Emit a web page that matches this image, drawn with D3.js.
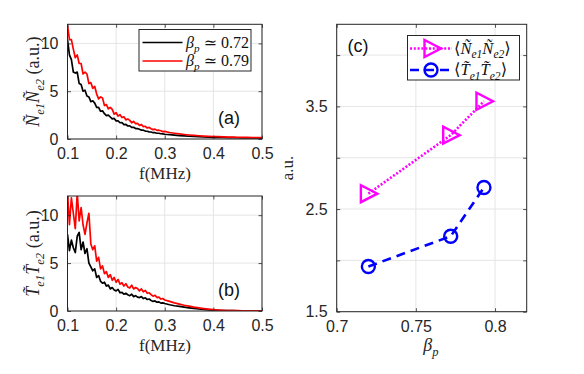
<!DOCTYPE html>
<html><head><meta charset="utf-8">
<script src="https://cdn.jsdelivr.net/npm/d3@7"></script>
<style>body{margin:0;background:#fff}svg{display:block}</style>
</head><body><svg id="c" width="584" height="374"></svg>
<script>
// ---------- data ----------
const freqs = [0.1,0.104,0.108,0.112,0.116,0.12,0.124,0.128,0.132,0.136,0.14,0.144,0.148,0.152,0.156,0.16,0.164,0.168,0.172,0.176,0.18,0.184,0.188,0.192,0.196,0.2,0.204,0.208,0.212,0.216,0.22,0.224,0.228,0.232,0.236,0.24,0.244,0.248,0.252,0.256,0.26,0.264,0.268,0.272,0.276,0.28,0.284,0.288,0.292,0.296,0.3,
  0.31,0.32,0.33,0.34,0.35,0.36,0.37,0.38,0.39,0.4,0.41,0.42,0.43,0.44,0.45,0.46,0.47,0.48,0.49,0.5];
const nnLow = [10.4,8.8,8.3,7.0,6.9,7.0,5.8,5.7,5.0,5.1,4.5,4.4,3.9,4.0,3.75,3.3,3.3,2.9,2.95,2.65,2.45,2.5,2.3,2.1,2.15,1.9,1.9,1.7,1.71,1.51,1.53,1.36,1.37,1.22,1.22,1.09,1.08,1.02,0.92,0.92,0.83,0.81,0.74,0.73,0.66,0.66,0.6,0.6,0.55,0.54,0.5,
  0.45,0.41,0.36,0.33,0.29,0.27,0.24,0.22,0.2,0.18,0.17,0.16,0.15,0.14,0.13,0.12,0.12,0.11,0.11,0.1];
const nnHigh = [11.9,10.4,10.4,9.4,8.5,8.8,7.9,7.9,6.8,7.0,6.8,5.8,5.9,5.3,5.5,4.7,4.2,4.4,4.3,3.5,3.6,3.15,3.3,3.1,2.6,2.75,2.4,2.55,2.25,2.32,2.0,2.1,1.95,1.7,1.84,1.6,1.63,1.42,1.5,1.29,1.33,1.15,1.21,1.08,0.98,1.03,0.9,0.92,0.86,0.77,0.79,
  0.68,0.6,0.53,0.47,0.42,0.38,0.34,0.31,0.28,0.26,0.24,0.22,0.2,0.19,0.18,0.17,0.16,0.15,0.14,0.14];
const ttLow = [8.0,6.3,7.4,6.6,6.1,7.8,8.2,6.4,7.2,6.0,6.5,5.0,4.6,4.2,4.4,3.5,3.7,3.1,2.9,3.0,2.6,
  2.7,2.3,2.45,2.2,2.1,2.25,1.9,1.95,1.75,1.85,1.7,1.6,1.75,1.5,1.6,1.45,1.4,1.5,1.3,1.38,1.2,1.25,1.1,1.0,1.05,0.92,0.95,0.82,0.85,0.78,
  0.65,0.55,0.48,0.4,0.33,0.27,0.21,0.16,0.12,0.09,0.07,0.05,0.04,0.03,0.02,0.02,0.01,0.01,0.01,0.01];
const ttHigh = [12.4,9.0,11.8,10.2,8.6,12.3,9.4,10.8,9.0,8.0,9.2,10.2,7.0,6.4,6.8,5.2,5.6,4.4,4.7,3.9,4.1,
  3.5,3.8,3.2,3.5,3.0,3.3,2.8,2.95,2.6,2.85,2.5,2.4,2.7,2.3,2.45,2.35,2.1,2.3,2.0,2.15,1.85,1.9,1.7,1.55,1.65,1.4,1.45,1.25,1.3,1.15,
  1.0,0.85,0.72,0.6,0.5,0.4,0.32,0.25,0.19,0.14,0.1,0.07,0.05,0.04,0.03,0.02,0.02,0.01,0.01,0.01];
const betaLegend = ["0.72","0.79"];

const betaP = [0.72, 0.772, 0.793];
const nCorr = [2.65, 3.22, 3.55];
const tCorr = [1.94, 2.235, 2.71];

const fTicks = [0.1,0.2,0.3,0.4,0.5];
const specYTicks = [0,5,10];
const betaTicks = [0.7,0.75,0.8];
const betaTickLabels = ["0.7","0.75","0.8"];
const auTicks = [1.5,2,2.5,3,3.5,4];
const auTickLabels = ["1.5","","2.5","","3.5",""];

// ---------- drawing ----------
const svg = d3.select("#c");
const AX = "#262626", GRID = "#e5e5e5";
const SANS = "'Liberation Sans', Arial, sans-serif";
const SERIF = "'Liberation Serif', 'DejaVu Serif', serif";

function rich(text, segs, base){
  let cur = 0;
  segs.forEach(s => {
    const sz = s.sub ? base*0.7 : base;
    const target = s.sub ? base*0.28 : 0;
    const ts = text.append("tspan").text(s.t)
      .attr("font-size", sz)
      .attr("font-style", s.it ? "italic" : "normal");
    if (target - cur !== 0) ts.attr("dy", target - cur);
    cur = target;
  });
}

function frame(g, x, y, xt, yt, id){
  const [x0,x1] = x.range(), [y1,y0] = y.range();
  const w = x1-x0, h = y1-y0;
  g.append("g").selectAll("line").data(xt).join("line")
    .attr("x1", d=>x(d)).attr("x2", d=>x(d)).attr("y1", y0).attr("y2", y1)
    .attr("stroke", GRID).attr("stroke-width", 1);
  g.append("g").selectAll("line").data(yt).join("line")
    .attr("y1", d=>y(d)).attr("y2", d=>y(d)).attr("x1", x0).attr("x2", x1)
    .attr("stroke", GRID).attr("stroke-width", 1);
  g.append("clipPath").attr("id", id).append("rect")
    .attr("x", x0).attr("y", y0).attr("width", w).attr("height", h);
  return {x0,x1,y0,y1,w,h};
}

function axesOver(g, x, y, xt, yt, xfmt, yfmt, r){
  const tk = 3.5;
  const bx = g.append("g").attr("transform", `translate(0,${r.y1})`)
    .call(d3.axisBottom(x).tickValues(xt).tickFormat(xfmt).tickSize(-tk).tickPadding(9));
  const tx = g.append("g").attr("transform", `translate(0,${r.y0})`)
    .call(d3.axisTop(x).tickValues(xt).tickFormat("").tickSize(-tk));
  const ly = g.append("g").attr("transform", `translate(${r.x0},0)`)
    .call(d3.axisLeft(y).tickValues(yt).tickFormat(yfmt).tickSize(-tk).tickPadding(9));
  const ry = g.append("g").attr("transform", `translate(${r.x1},0)`)
    .call(d3.axisRight(y).tickValues(yt).tickFormat("").tickSize(-tk));
  [bx,tx,ly,ry].forEach(a=>{
    a.select(".domain").remove();
    a.selectAll("line").attr("stroke", AX).attr("stroke-width", 0.8);
    a.selectAll("text").attr("fill", AX).attr("font-family", SANS).attr("font-size", 16);
  });
  g.append("rect").attr("x", r.x0).attr("y", r.y0).attr("width", r.w).attr("height", r.h)
    .attr("fill", "none").attr("stroke", AX).attr("stroke-width", 1);
}

function spectrum(top, bottom, low, high, id, label, ylabSegs, withLegend, xlabBase){
  const g = svg.append("g");
  const x = d3.scaleLinear().domain([0.1,0.5]).range([67.5,262]);
  const y = d3.scaleLinear().domain([0,12]).range([bottom, top]);
  const r = frame(g, x, y, fTicks, specYTicks, id);
  const line = d3.line().x((d,i)=>x(freqs[i])).y(d=>y(d));
  const pg = g.append("g").attr("clip-path", `url(#${id})`);
  pg.append("path").datum(low).attr("d", line).attr("fill","none").attr("stroke","#000").attr("stroke-width",1.7).attr("stroke-linejoin","round");
  pg.append("path").datum(high).attr("d", line).attr("fill","none").attr("stroke","#ff0000").attr("stroke-width",1.7).attr("stroke-linejoin","round");
  axesOver(g, x, y, fTicks, specYTicks, d3.format(".1f"), d3.format("d"), r);
  g.append("text").attr("x", 218).attr("y", bottom-15).attr("font-family", SANS).attr("font-size", 18).attr("fill","#111").text(label);
  g.append("text").attr("x", 165).attr("y", xlabBase).attr("text-anchor","middle")
    .attr("font-family", SERIF).attr("font-size", 17).attr("fill", AX).text("f(MHz)");
  const yl = g.append("text").attr("transform", `translate(39,${(top+bottom)/2}) rotate(-90)`)
    .attr("text-anchor","middle").attr("font-family", SERIF).attr("fill", AX);
  rich(yl, ylabSegs, 18);
  if (withLegend){
    const lg = g.append("g");
    lg.append("rect").attr("x",139).attr("y",29.5).attr("width",112).attr("height",41.5)
      .attr("fill","#fff").attr("stroke",AX).attr("stroke-width",1);
    const cols = ["#000","#ff0000"];
    betaLegend.forEach((b,i)=>{
      const yy = 42.5 + i*18.5;
      lg.append("line").attr("x1",142.5).attr("x2",182.5).attr("y1",yy).attr("y2",yy)
        .attr("stroke",cols[i]).attr("stroke-width",1.6);
      const t = lg.append("text").attr("x",186).attr("y",yy+5).attr("font-family",SERIF).attr("fill","#111");
      rich(t, [{t:"β",it:true},{t:"p",it:true,sub:true},{t:" ≃ "+b}], 16);
    });
  }
}

spectrum(24.3, 139, nnLow, nnHigh, "clipA", "(a)",
  [{t:"Ñ",it:true},{t:"e1",it:true,sub:true},{t:"Ñ",it:true},{t:"e2",it:true,sub:true},{t:" (a.u.)"}], true, 179);
spectrum(196, 311, ttLow, ttHigh, "clipB", "(b)",
  [{t:"T\u0303",it:true},{t:"e1",it:true,sub:true},{t:"T\u0303",it:true},{t:"e2",it:true,sub:true},{t:" (a.u.)"}], false, 351);

// ---------- panel (c) ----------
{
  const g = svg.append("g");
  const x = d3.scaleLinear().domain([0.7,0.82]).range([336.7,526.7]);
  const y = d3.scaleLinear().domain([1.5,4.3]).range([311.7,24.3]);
  const r = frame(g, x, y, betaTicks, auTicks, "clipC");
  const pts = (vals)=>vals.map((v,i)=>[x(betaP[i]), y(v)]);
  const MAG = "#ff00ff", BLU = "#0000ff";
  const tri = (cx,cy)=>`M${cx-7.5},${cy-8.5}L${cx-7.5},${cy+8.5}L${cx+9},${cy}Z`;
  g.append("path").attr("d", d3.line()(pts(nCorr))).attr("fill","none").attr("stroke",MAG)
    .attr("stroke-width",2.6).attr("stroke-dasharray","2,1.8");
  g.append("path").attr("d", d3.line()(pts(tCorr))).attr("fill","none").attr("stroke",BLU)
    .attr("stroke-width",2.6).attr("stroke-dasharray","9,6");
  g.selectAll(".tri").data(pts(nCorr)).join("path").attr("d", d=>tri(d[0],d[1]))
    .attr("fill","none").attr("stroke",MAG).attr("stroke-width",2.4);
  g.selectAll(".circ").data(pts(tCorr)).join("circle").attr("cx",d=>d[0]).attr("cy",d=>d[1]).attr("r",6.5)
    .attr("fill","none").attr("stroke",BLU).attr("stroke-width",2.4);
  axesOver(g, x, y, betaTicks, auTicks, (d,i)=>betaTickLabels[i], (d,i)=>auTickLabels[i], r);
  g.append("text").attr("x",347.5).attr("y",52).attr("font-family",SANS).attr("font-size",18).attr("fill","#111").text("(c)");
  const xl = g.append("text").attr("x",431).attr("y",351).attr("text-anchor","middle").attr("font-family",SERIF).attr("fill",AX);
  rich(xl, [{t:"β",it:true},{t:"p",it:true,sub:true}], 18);
  g.append("text").attr("transform","translate(293,168) rotate(-90)").attr("text-anchor","middle")
    .attr("font-family",SERIF).attr("font-size",17).attr("fill",AX).text("a.u.");
  const lg = g.append("g");
  lg.append("rect").attr("x",407.5).attr("y",35.5).attr("width",112).attr("height",44.5)
    .attr("fill","#fff").attr("stroke",AX).attr("stroke-width",1);
  const rows = [
    {col:MAG, dash:"2,1.8", mk:"tri", segs:[{t:"⟨"},{t:"Ñ",it:true},{t:"e1",it:true,sub:true},{t:"Ñ",it:true},{t:"e2",it:true,sub:true},{t:"⟩"}]},
    {col:BLU, dash:"9,6", mk:"circ", segs:[{t:"⟨"},{t:"T\u0303",it:true},{t:"e1",it:true,sub:true},{t:"T\u0303",it:true},{t:"e2",it:true,sub:true},{t:"⟩"}]}
  ];
  rows.forEach((rw,i)=>{
    const yy = 48.5 + i*21.5;
    lg.append("line").attr("x1",410).attr("x2",452).attr("y1",yy).attr("y2",yy)
      .attr("stroke",rw.col).attr("stroke-width",2.6).attr("stroke-dasharray", rw.dash);
    if (rw.mk==="tri") lg.append("path").attr("d",tri(432,yy)).attr("fill","none").attr("stroke",rw.col).attr("stroke-width",2.4);
    else lg.append("circle").attr("cx",431).attr("cy",yy).attr("r",6.5).attr("fill","none").attr("stroke",rw.col).attr("stroke-width",2.4);
    const t = lg.append("text").attr("x",454).attr("y",yy+5).attr("font-family",SERIF).attr("fill","#111");
    rich(t, rw.segs, 16.5);
  });
}
</script></body></html>
